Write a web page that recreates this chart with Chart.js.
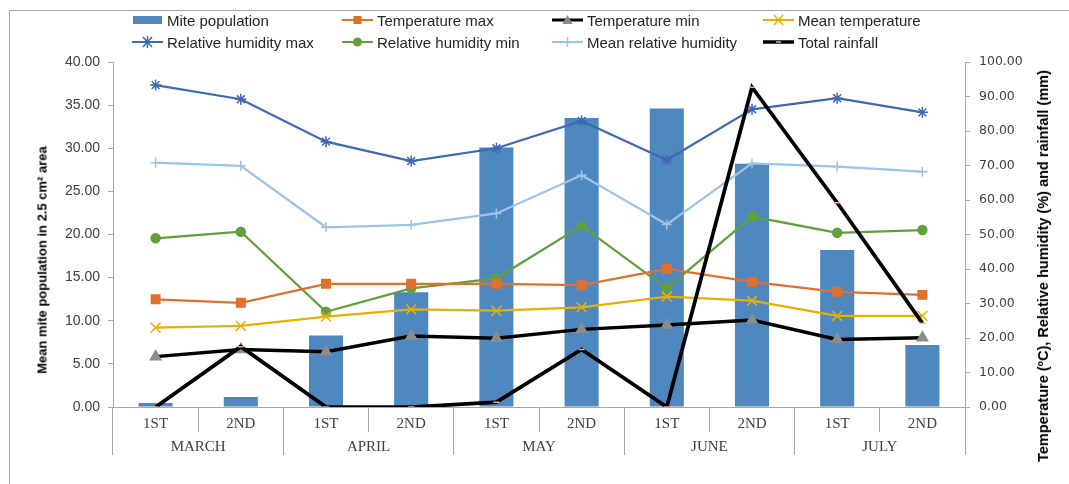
<!DOCTYPE html>
<html>
<head>
<meta charset="utf-8">
<script src="https://cdn.jsdelivr.net/npm/chart.js@4.4.0/dist/chart.umd.min.js"></script>
<style>
  body { margin: 0; background: #fff; }
  #wrap { position: relative; width: 1069px; height: 484px; overflow: hidden; }
  #frame { position: absolute; left: 9px; top: 10px; width: 1200px; height: 600px;
           border-left: 1px solid #a6a6a6; border-top: 1px solid #a6a6a6; }
  canvas { position: absolute; left: 0; top: 0; }
  .leg { position: absolute; height: 16px; display: flex; align-items: center;
         font: 15px "Liberation Sans", Arial, sans-serif; color: #262626; white-space: nowrap; }
  .leg svg { margin-right: 4px; }
  .ytitle { position: absolute; font: bold 13px "Liberation Sans", Arial, sans-serif; color: #000;
            white-space: nowrap; transform: translate(-50%, -50%) rotate(-90deg); }
</style>
</head>
<body>
<div id="wrap">
  <div id="frame"></div>
  <canvas id="chart" width="1069" height="484"></canvas>

  <div class="leg" style="left:132px;top:12px"><svg width="31" height="14"><rect x="1" y="3" width="29" height="8" fill="#4f88bf"/></svg>Mite population</div>
  <div class="leg" style="left:342px;top:12px"><svg width="31" height="14"><line x1="0" y1="7" x2="31" y2="7" stroke="#e0702e" stroke-width="2"/><rect x="11.5" y="3" width="8" height="8" fill="#e0702e"/></svg>Temperature max</div>
  <div class="leg" style="left:552px;top:12px"><svg width="31" height="14"><line x1="0" y1="7" x2="31" y2="7" stroke="#000" stroke-width="3"/><polygon points="15.5,2 20.5,11 10.5,11" fill="#8c8c8c"/></svg>Temperature min</div>
  <div class="leg" style="left:763px;top:12px"><svg width="31" height="14"><line x1="0" y1="7" x2="31" y2="7" stroke="#e8b000" stroke-width="2"/><path d="M11 2 L20 12 M20 2 L11 12" stroke="#e8b000" stroke-width="1.5"/></svg>Mean temperature</div>

  <div class="leg" style="left:132px;top:34px"><svg width="31" height="14"><line x1="0" y1="7" x2="31" y2="7" stroke="#3f68b5" stroke-width="2"/><path d="M11 2 L20 12 M20 2 L11 12 M15.5 1 L15.5 13" stroke="#3f68b5" stroke-width="1.5"/></svg>Relative humidity max</div>
  <div class="leg" style="left:342px;top:34px"><svg width="31" height="14"><line x1="0" y1="7" x2="31" y2="7" stroke="#62a03e" stroke-width="2"/><circle cx="15.5" cy="7" r="4.5" fill="#62a03e"/></svg>Relative humidity min</div>
  <div class="leg" style="left:552px;top:34px"><svg width="31" height="14"><line x1="0" y1="7" x2="31" y2="7" stroke="#9dc3e6" stroke-width="2"/><path d="M15.5 2 L15.5 12" stroke="#9dc3e6" stroke-width="1.5"/></svg>Mean relative humidity</div>
  <div class="leg" style="left:763px;top:34px"><svg width="31" height="14"><line x1="0" y1="7" x2="31" y2="7" stroke="#000" stroke-width="3.5"/><line x1="13" y1="7" x2="18" y2="7" stroke="#f4a582" stroke-width="1.5"/></svg>Total rainfall</div>

  <div class="ytitle" style="left:42px;top:260px">Mean mite population in 2.5 cm² area</div>
  <div class="ytitle" style="left:1043px;top:266px;font-size:14.5px">Temperature (ºC), Relative humidity (%) and rainfall (mm)</div>
</div>

<script>
// fortnight labels and months
const halves = ['1ST', '2ND', '1ST', '2ND', '1ST', '2ND', '1ST', '2ND', '1ST', '2ND'];
const months = ['MARCH', 'APRIL', 'MAY', 'JUNE', 'JULY'];

// left axis (bars)
const mitePopulation = [0.45, 1.15, 8.3, 13.3, 30.1, 33.5, 34.6, 28.2, 18.2, 7.2];

// right axis (lines)
const tempMax  = [31.2, 30.2, 35.7, 35.7, 35.7, 35.3, 40.0, 36.3, 33.4, 32.5];
const tempMin  = [14.6, 16.7, 16.0, 20.6, 19.9, 22.5, 23.8, 25.2, 19.6, 20.1];
const tempMean = [23.0, 23.5, 26.2, 28.3, 27.9, 28.9, 32.0, 30.8, 26.4, 26.4];
const rhMax    = [93.3, 89.2, 76.9, 71.3, 75.0, 82.9, 71.6, 86.3, 89.5, 85.4];
const rhMin    = [48.9, 50.8, 27.6, 34.4, 37.3, 52.5, 34.4, 55.2, 50.5, 51.3];
const rhMean   = [70.8, 69.9, 52.1, 52.8, 56.1, 67.2, 52.9, 70.6, 69.7, 68.2];
const rainfall = [0, 17.5, 0, 0, 1.4, 16.7, 0, 92.7, 59.2, 24.3];

const leftTicks = { min: 0, max: 40, step: 5 };
const rightTicks = { min: 0, max: 100, step: 10 };

const axisGray = '#a6a6a6';

function lineSet(label, data, color, width, style, radius, pointColor) {
    return {
        type: 'line',
        label: label,
        data: data,
        yAxisID: 'y1',
        borderColor: color,
        borderWidth: width,
        tension: 0,
        pointStyle: style,
        pointRadius: radius,
        pointBackgroundColor: pointColor || color,
        pointBorderColor: pointColor || color,
        pointBorderWidth: 1.5,
        order: 1
    };
}

const ctx = document.getElementById('chart').getContext('2d');

new Chart(ctx, {
    data: {
        labels: halves,
        datasets: [
            {
                type: 'bar',
                label: 'Mite population',
                data: mitePopulation,
                yAxisID: 'y',
                backgroundColor: '#4f88bf',
                barPercentage: 0.4,
                categoryPercentage: 1,
                order: 10
            },
            lineSet('Temperature max', tempMax, '#e0702e', 2.25, 'rect', 6),
            lineSet('Temperature min', tempMin, '#000000', 3.5, 'triangle', 6, '#8c8c8c'),
            lineSet('Mean temperature', tempMean, '#e8b000', 2.25, 'crossRot', 7),
            lineSet('Relative humidity max', rhMax, '#3f68b5', 2.25, 'star', 5.5),
            lineSet('Relative humidity min', rhMin, '#62a03e', 2.25, 'circle', 4.5),
            lineSet('Mean relative humidity', rhMean, '#9dc3e6', 2.25, 'cross', 5),
            Object.assign(lineSet('Total rainfall', rainfall, '#000000', 3.75, 'line', 3, '#f4a582'), { order: 0 })
        ]
    },
    options: {
        responsive: false,
        animation: false,
        devicePixelRatio: 1,
        layout: { padding: { top: 62, bottom: 29, left: 0, right: 0 } },
        plugins: {
            legend: { display: false },
            tooltip: { enabled: false }
        },
        scales: {
            x: {
                type: 'category',
                position: 'bottom',
                offset: true,
                grid: { offset: true, drawOnChartArea: false, tickLength: 25, color: axisGray },
                border: { color: axisGray },
                ticks: {
                    padding: -17,
                    maxRotation: 0,
                    autoSkip: false,
                    color: '#404040',
                    font: { family: 'Liberation Serif', size: 15 }
                },
                afterFit: function(scale) { scale.height = 25; }
            },
            x2: {
                type: 'category',
                position: 'bottom',
                labels: months,
                offset: true,
                grid: { offset: true, drawOnChartArea: false, tickLength: 23, color: axisGray },
                border: { display: false },
                ticks: {
                    padding: -17,
                    maxRotation: 0,
                    autoSkip: false,
                    color: '#404040',
                    font: { family: 'Liberation Serif', size: 15 }
                },
                afterFit: function(scale) { scale.height = 23; }
            },
            y: {
                position: 'left',
                min: leftTicks.min,
                max: leftTicks.max,
                grid: { drawOnChartArea: false, tickLength: 5, color: axisGray },
                border: { color: axisGray },
                ticks: {
                    stepSize: leftTicks.step,
                    padding: 8,
                    color: '#404040',
                    font: { family: 'Liberation Sans', size: 14 },
                    callback: v => v.toFixed(2)
                },
                afterFit: function(scale) { scale.width = 113; }
            },
            y1: {
                position: 'right',
                min: rightTicks.min,
                max: rightTicks.max,
                grid: { drawOnChartArea: false, tickLength: 5, color: axisGray },
                border: { color: axisGray },
                ticks: {
                    stepSize: rightTicks.step,
                    padding: 9,
                    color: '#404040',
                    font: { family: 'DejaVu Sans', size: 12.5 },
                    callback: v => v.toFixed(2)
                },
                afterFit: function(scale) { scale.width = 104; }
            }
        }
    }
});
</script>
</body>
</html>
